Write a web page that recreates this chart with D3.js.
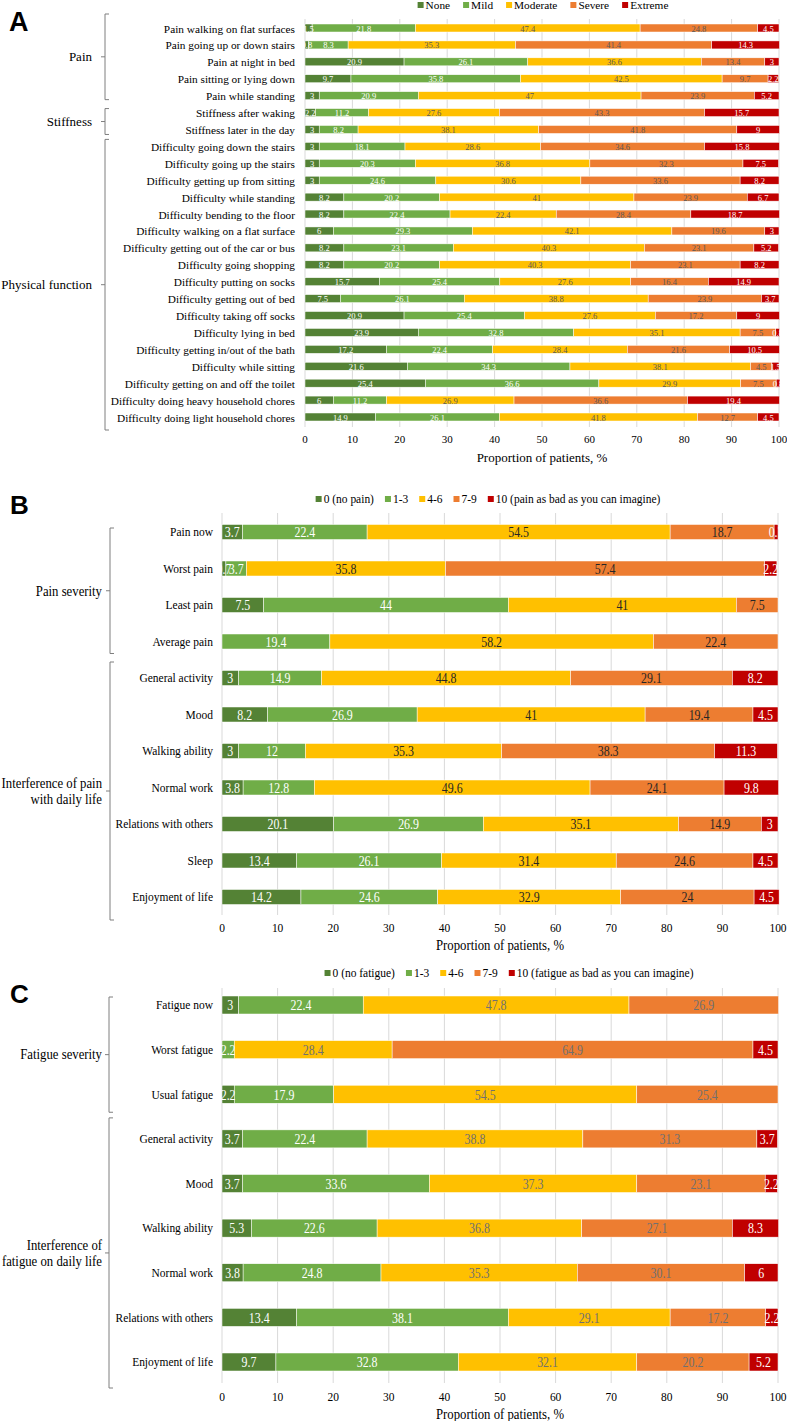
<!DOCTYPE html>
<html><head><meta charset="utf-8">
<script src="https://cdn.jsdelivr.net/npm/d3@7"></script>
<style>body{margin:0;background:#fff}svg{display:block}</style>
</head><body>
<svg id="c" width="787" height="1421"></svg>
<script>
// ---------- DATA ----------
const tickValues = [0,10,20,30,40,50,60,70,80,90,100];
const colors = ["#548235","#70AD47","#FFC000","#ED7D31","#C00000"];

// Panel A
const aLegend = ["None","Mild","Moderate","Severe","Extreme"];
const aItems = ["Pain walking on flat surfaces","Pain going up or down stairs","Pain at night in bed","Pain sitting or lying down","Pain while standing",
"Stiffness after waking","Stiffness later in the day",
"Difficulty going down the stairs","Difficulty going up the stairs","Difficulty getting up from sitting","Difficulty while standing","Difficulty bending to the floor","Difficulty walking on a flat surface","Difficulty getting out of the car or bus","Difficulty going shopping","Difficulty putting on socks","Difficulty getting out of bed","Difficulty taking off socks","Difficulty lying in bed","Difficulty getting in/out of the bath","Difficulty while sitting","Difficulty getting on and off the toilet","Difficulty doing heavy household chores","Difficulty doing light household chores"];
const aNone     = [1.5,0.8,20.9,9.7,3, 2.2,3, 3,3,3,8.2,8.2,6,8.2,8.2,15.7,7.5,20.9,23.9,17.2,21.6,25.4,6,14.9];
const aMild     = [21.8,8.3,26.1,35.8,20.9, 11.2,8.2, 18.1,20.3,24.6,20.2,22.4,29.3,23.1,20.2,25.4,26.1,25.4,32.8,22.4,34.3,36.6,11.2,26.1];
const aModerate = [47.4,35.3,36.6,42.5,47, 27.6,38.1, 28.6,36.8,30.6,41,22.4,42.1,40.3,40.3,27.6,38.8,27.6,35.1,28.4,38.1,29.9,26.9,41.8];
const aSevere   = [24.8,41.4,13.4,9.7,23.9, 43.3,41.8, 34.6,32.3,33.6,23.9,28.4,19.6,23.1,23.1,16.4,23.9,17.2,7.5,21.6,4.5,7.5,36.6,12.7];
const aExtreme  = [4.5,14.3,3,2.2,5.2, 15.7,9, 15.8,7.5,8.2,6.7,18.7,3,5.2,8.2,14.9,3.7,9,0.8,10.5,1.5,0.8,19.4,4.5];
const aGroupNames = [["Pain"],["Stiffness"],["Physical function"]];
const aGroupSizes = [5,2,17];

// Panel B
const bLegend = ["0 (no pain)","1-3","4-6","7-9","10 (pain as bad as you can imagine)"];
const bItems = ["Pain now","Worst pain","Least pain","Average pain","General activity","Mood","Walking ability","Normal work","Relations with others","Sleep","Enjoyment of life"];
const b0  = [3.7,0.7,7.5,0,3,8.2,3,3.8,20.1,13.4,14.2];
const b13 = [22.4,3.7,44,19.4,14.9,26.9,12,12.8,26.9,26.1,24.6];
const b46 = [54.5,35.8,41,58.2,44.8,41,35.3,49.6,35.1,31.4,32.9];
const b79 = [18.7,57.4,7.5,22.4,29.1,19.4,38.3,24.1,14.9,24.6,24];
const b10 = [0.7,2.2,0,0,8.2,4.5,11.3,9.8,3,4.5,4.5];
const bGroupNames = [["Pain severity"],["Interference of pain","with daily life"]];
const bGroupSizes = [4,7];

// Panel C
const cLegend = ["0 (no fatigue)","1-3","4-6","7-9","10 (fatigue as bad as you can imagine)"];
const cItems = ["Fatigue now","Worst fatigue","Usual fatigue","General activity","Mood","Walking ability","Normal work","Relations with others","Enjoyment of life"];
const c0  = [3,0,2.2,3.7,3.7,5.3,3.8,13.4,9.7];
const c13 = [22.4,2.2,17.9,22.4,33.6,22.6,24.8,38.1,32.8];
const c46 = [47.8,28.4,54.5,38.8,37.3,36.8,35.3,29.1,32.1];
const c79 = [26.9,64.9,25.4,31.3,23.1,27.1,30.1,17.2,20.2];
const c10 = [0,4.5,0,3.7,2.2,8.3,6,2.2,5.2];
const cGroupNames = [["Fatigue severity"],["Interference of","fatigue on daily life"]];
const cGroupSizes = [3,6];

const axisTitle = "Proportion of patients, %";

// ---------- DRAWING ----------
const svg = d3.select("#c");
const serif = "'Liberation Serif','Times New Roman',serif";
const sans = "'Liberation Sans',Arial,sans-serif";

function addText(g, x, y, s, o = {}) {
  const sx = o.sx || 1;
  return g.append("text")
    .attr("transform", `translate(${x},${y}) scale(${sx},1)`)
    .attr("text-anchor", o.anchor || "start")
    .attr("dominant-baseline", o.baseline || "central")
    .style("font-family", o.family || serif)
    .style("font-size", (o.size || 11) + "px")
    .style("font-weight", o.weight || "normal")
    .attr("fill", o.color || "#000")
    .text(s);
}

function drawPanel(p) {
  const g = svg.append("g");
  const x = d3.scaleLinear().domain([0, 100]).range(p.xRange);
  const y = d3.scalePoint().domain(p.items).range(p.yRange);
  const sx = p.sx;

  // panel letter
  addText(g, p.letterPos[0], p.letterPos[1], p.letter, {family: sans, weight: "bold", size: p.letterSize, baseline: "alphabetic"});

  // gridlines
  g.append("g").selectAll("line").data(tickValues).join("line")
    .attr("x1", d => x(d)).attr("x2", d => x(d))
    .attr("y1", p.gridY[0]).attr("y2", p.gridY[1])
    .attr("stroke", "#d9d9d9").attr("stroke-width", 1);

  // stacked bars
  const keys = p.series.map((_, j) => "s" + j);
  const rows = p.items.map((name, i) => {
    const o = {name, i};
    keys.forEach((k, j) => o[k] = p.series[j][i]);
    return o;
  });
  const stacked = d3.stack().keys(keys)(rows);
  stacked.forEach((layer, j) => {
    g.append("g").selectAll("rect").data(layer.filter(d => d[1] - d[0] > 0)).join("rect")
      .attr("x", d => x(d[0]))
      .attr("width", d => x(d[1]) - x(d[0]))
      .attr("y", d => y(d.data.name) - p.barH / 2)
      .attr("height", p.barH)
      .attr("fill", colors[j])
      .attr("stroke", "#fff").attr("stroke-width", 0.5);
  });
  stacked.forEach((layer, j) => {
    layer.forEach(d => {
      const v = p.series[j][d.data.i];
      if (v > 0) addText(g, x((d[0] + d[1]) / 2), y(d.data.name) + p.valDy, String(v),
        {anchor: "middle", size: p.valSize, sx, color: p.valColors[j]});
    });
  });

  // category labels
  p.items.forEach(name => addText(g, p.catX, y(name) + p.catDy, name, {anchor: "end", size: p.catSize, sx}));

  // axis tick labels and title
  tickValues.forEach(t => addText(g, x(t), p.tickY, String(t), {anchor: "middle", size: p.tickSize, sx}));
  addText(g, (p.xRange[0] + p.xRange[1]) / 2, p.titleY, axisTitle, {anchor: "middle", size: p.titleSize, sx});

  // group brackets
  let start = 0;
  p.groupSizes.forEach((n, k) => {
    const first = p.items[start], last = p.items[start + n - 1];
    const top = y(first) + p.brPad[k][0], bot = y(last) + p.brPad[k][1];
    const mid = (top + bot) / 2;
    const bx = p.brX;
    g.append("path")
      .attr("d", `M${bx + 4},${top}H${bx}V${bot}H${bx + 4}M${bx},${mid}H${bx - 4}`)
      .attr("fill", "none").attr("stroke", "#7f7f7f").attr("stroke-width", 1);
    const lines = p.groupNames[k];
    lines.forEach((ln, li) => {
      addText(g, p.grpX, mid + (li - (lines.length - 1) / 2) * p.grpLine + p.grpDy, ln,
        {anchor: "end", size: p.grpSize, sx});
    });
    start += n;
  });

  // legend
  const lg = g.append("g");
  let cx = 0;
  const items = [];
  p.legend.forEach((lab, j) => {
    const sq = lg.append("rect").attr("x", cx).attr("y", p.legendY - p.sq / 2).attr("width", p.sq).attr("height", p.sq).attr("fill", colors[j]);
    const t = addText(lg, cx + p.sq + 2, p.legendY, lab, {size: p.legendSize, sx});
    const w = t.node().getComputedTextLength() * sx;
    cx += p.sq + 2 + w + p.legendGap;
  });
  const total = cx - p.legendGap;
  lg.attr("transform", `translate(${p.legendCenter - total / 2},0)`);
}

drawPanel({
  letter: "A", letterPos: [9, 31], letterSize: 27,
  items: aItems, series: [aNone, aMild, aModerate, aSevere, aExtreme],
  xRange: [305, 779], yRange: [28, 417], barH: 8, gridY: [19, 427], sx: 1,
  valSize: 8.5, valDy: 0.5, valColors: ["#fff", "#fff", "#595959", "#595959", "#fff"],
  catX: 295, catDy: 0.5, catSize: 11.3,
  tickY: 439, tickSize: 11, titleY: 457, titleSize: 13,
  groupNames: aGroupNames, groupSizes: aGroupSizes,
  brPad: [[-14, 4], [-4, 5], [-7, 13]], brX: 105, grpX: 92, grpLine: 15, grpDy: 0, grpSize: 13,
  legend: aLegend, legendY: 5, legendSize: 11.3, sq: 6, legendGap: 13, legendCenter: 543
});

drawPanel({
  letter: "B", letterPos: [10, 514], letterSize: 26,
  items: bItems, series: [b0, b13, b46, b79, b10],
  xRange: [222, 778], yRange: [532, 897], barH: 15, gridY: [513, 915], sx: 0.85,
  valSize: 14, valDy: 0.5, valColors: ["#fff", "#fff", "#262626", "#262626", "#fff"],
  catX: 213, catDy: 0, catSize: 13.5,
  tickY: 928, tickSize: 13.5, titleY: 945, titleSize: 15,
  groupNames: bGroupNames, groupSizes: bGroupSizes,
  brPad: [[-4, 12], [-16, 23]], brX: 110, grpX: 102, grpLine: 16, grpDy: 0, grpSize: 15,
  legend: bLegend, legendY: 499, legendSize: 13.5, sq: 6, legendGap: 11, legendCenter: 488
});

drawPanel({
  letter: "C", letterPos: [10, 1003], letterSize: 26,
  items: cItems, series: [c0, c13, c46, c79, c10],
  xRange: [222, 778], yRange: [1005, 1362], barH: 18, gridY: [988, 1383], sx: 0.85,
  valSize: 14, valDy: 0.5, valColors: ["#fff", "#fff", "#707070", "#707070", "#fff"],
  catX: 213, catDy: 0, catSize: 13.5,
  tickY: 1397, tickSize: 13.5, titleY: 1414, titleSize: 15,
  groupNames: cGroupNames, groupSizes: cGroupSizes,
  brPad: [[-8, 18], [-21, 26]], brX: 109, grpX: 102, grpLine: 16, grpDy: 0, grpSize: 15,
  legend: cLegend, legendY: 973, legendSize: 13.5, sq: 6, legendGap: 11, legendCenter: 509
});
</script>
</body></html>
